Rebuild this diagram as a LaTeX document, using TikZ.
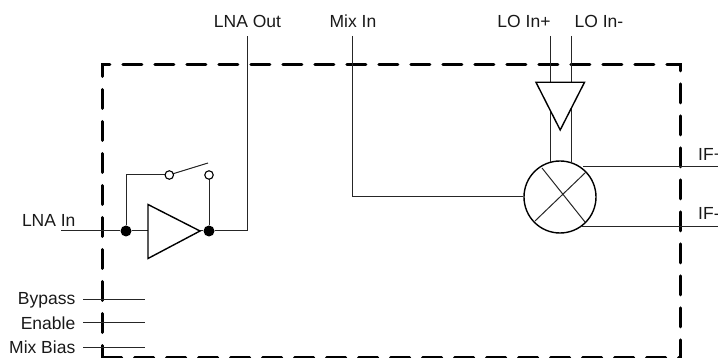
\documentclass[tikz,border=0pt]{standalone}
\usepackage{fontspec}
\setmainfont{Liberation Sans}
\begin{document}
\begin{tikzpicture}[x=1pt,y=-1pt,
  wire/.style={line width=1pt,black!85},
  shapeline/.style={line width=1.4pt,black},
  boxline/.style={line width=3pt,black,line cap=round,dash pattern=on 19pt off 13pt},
  lbl/.style={inner sep=0pt,font=\fontsize{17.5}{19}\selectfont,text=black!90},
  dotn/.style={circle,fill=black,inner sep=0pt,minimum size=11pt},
  opn/.style={circle,draw=black,fill=white,line width=1.1pt,inner sep=0pt,minimum size=8.5pt},
  mix/.style={circle,draw=black,line width=1.4pt,inner sep=0pt,minimum size=72pt}]
\useasboundingbox (0,0) rectangle (718,358);
\begin{scope}
\clip (0,0) rectangle (718,358);
% outer dashed box
\draw[boxline] (102.3,76.5) -- (102.3,65) -- (680,65) -- (680,357.5) -- (102.3,357.5);
\draw[boxline] (102.3,89.5) -- (102.3,357.5);
% named points
\coordinate (lnainEnd) at (61,231);
\coordinate (ampIn) at (148,231);
\coordinate (ampOut) at (200,231);
\coordinate (lnaoutCorner) at (247.5,231);
\coordinate (lnaoutEnd) at (247.5,36);
\coordinate (mixinEnd) at (352.5,36);
\coordinate (mixinCorner) at (352.5,197);
\coordinate (loPlusEnd) at (550.5,36);
\coordinate (loMinusEnd) at (571.5,36);
\coordinate (swCorner) at (126,175);
\coordinate (swTip) at (208,163);
\coordinate (ifPlusEnd) at (718,166.5);
\coordinate (ifMinusEnd) at (718,226.5);
\coordinate (ifPlusStart) at (583,166.5);
\coordinate (ifMinusStart) at (582,226.5);
\node[dotn] (j1) at (126,231) {};
\node[dotn] (j2) at (209,231) {};
\node[mix] (mx) at (560,197) {};
% wires
\draw[wire] (lnainEnd) -- (j1) -- (ampIn);
\draw[wire] (ampOut) -- (j2) -- (lnaoutCorner) -- (lnaoutEnd);
\draw[wire] (j1) -- (swCorner) -- (169,175);
\draw[wire] (169,175) -- (swTip);
\draw[wire] (209,175) -- (j2);
\node[opn] (s1) at (169.3,175) {};
\node[opn] (s2) at (209,175) {};
\draw[wire] (mixinEnd) -- (mixinCorner) -- (mx.west);
\draw[wire] (loPlusEnd) -- (550.5,82);
\draw[wire] (loMinusEnd) -- (571.5,82);
\draw[wire] (550.5,110) -- (550.5,162.4);
\draw[wire] (571.5,109) -- (571.5,162.7);
\draw[wire] (ifPlusStart) -- (ifPlusEnd);
\draw[wire] (ifMinusStart) -- (ifMinusEnd);
\draw[wire] (83,299.5) coordinate (b1) -- (145,299.5) coordinate (b2);
\draw[wire] (83,322.5) coordinate (e1) -- (145,322.5) coordinate (e2);
\draw[wire] (83,347.5) coordinate (m1) -- (145,347.5) coordinate (m2);
% amplifiers
\draw[shapeline,line join=miter] (148,204.5) -- (200,231) -- (148,258.5) -- cycle;
\draw[shapeline,line join=miter] (536,82.3) -- (584.5,82.3) -- (560.2,130) -- cycle;
% mixer cross
\draw[wire] (542,168) -- (585,222);
\draw[wire] (535,221) -- (586,172);
% labels
\node[lbl,anchor=base] (tLnaOut) at (247.5,28) {LNA Out};
\node[lbl,anchor=base] (tMixIn) at (353,28) {Mix In};
\node[lbl,anchor=base] (tLoP) at (524,28) {LO In+};
\node[lbl,anchor=base] (tLoM) at (599,28) {LO In-};
\node[lbl,anchor=base west] (tIfP) at (698,160.7) {IF+};
\node[lbl,anchor=base west] (tIfM) at (698,219.5) {IF-};
\node[lbl,anchor=base east] (tLnaIn) at (75.7,226.7) {LNA In};
\node[lbl,anchor=base east] (tBypass) at (75.5,305) {Bypass};
\node[lbl,anchor=base east] (tEnable) at (75.5,329) {Enable};
\node[lbl,anchor=base east] (tMixBias) at (75.5,353) {Mix Bias};
\end{scope}
\end{tikzpicture}
\end{document}
